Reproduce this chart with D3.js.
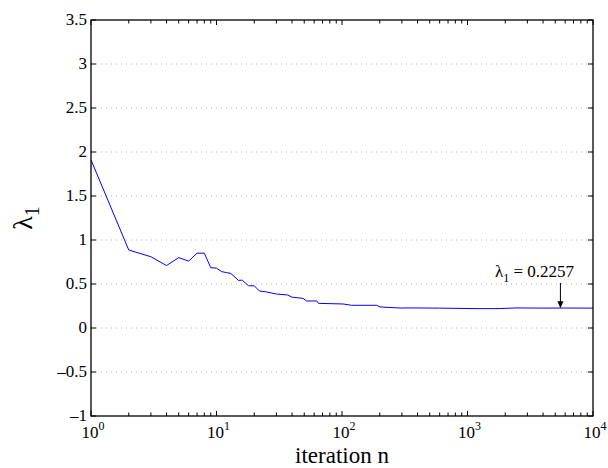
<!DOCTYPE html>
<html><head><meta charset="utf-8">
<script src="https://cdn.jsdelivr.net/npm/d3@7"></script>
<style>body{margin:0;background:#fff;}</style>
</head><body>
<svg id="c" width="608" height="468"></svg>
<script>
const iterations = [1,2,3,4,5,6,7,8,9,10,11,12,13,15,16,17,18,20,22,25,30,37,40,49,52,63,65,102,119,189,201,290,348,600,1191,1718,2478,4000,6000,10000];
const lambda1 =   [1.91,0.886,0.81,0.71,0.80,0.76,0.85,0.85,0.685,0.68,0.64,0.63,0.62,0.54,0.545,0.51,0.48,0.48,0.42,0.41,0.386,0.375,0.35,0.337,0.307,0.307,0.28,0.273,0.258,0.258,0.239,0.227,0.228,0.226,0.22,0.22,0.228,0.226,0.227,0.2257];
const yTicks = [-1,-0.5,0,0.5,1,1.5,2,2.5,3,3.5];
const xDecades = [0,1,2,3,4];
const annotation = {n: 5500, value: 0.2257, label: "0.2257"};

const svg = d3.select("#c");
const L=91,R=593,T=20,B=416;
const x = d3.scaleLog().domain([1,1e4]).range([L,R]);
const y = d3.scaleLinear().domain([-1,3.5]).range([B,T]);

// grid
svg.append("g").selectAll("line").data(yTicks.filter(d=>d>-1&&d<3.5)).join("line")
  .attr("x1",L).attr("x2",R).attr("y1",d=>y(d)).attr("y2",d=>y(d))
  .attr("stroke","#b0b0b0").attr("stroke-width",1).attr("stroke-dasharray","1,4");

// line
const line = d3.line().x((d,i)=>x(iterations[i])).y(d=>y(d));
svg.append("path").datum(lambda1).attr("d",line).attr("fill","none")
  .attr("stroke","#0000ff").attr("stroke-width",1);

// box
svg.append("rect").attr("x",L).attr("y",T).attr("width",R-L).attr("height",B-T)
  .attr("fill","none").attr("stroke","#000").attr("stroke-width",1.3);

// y ticks
const tk=5;
yTicks.forEach(v=>{
  svg.append("line").attr("x1",L).attr("x2",L+tk).attr("y1",y(v)).attr("y2",y(v)).attr("stroke","#000");
  svg.append("line").attr("x1",R).attr("x2",R-tk).attr("y1",y(v)).attr("y2",y(v)).attr("stroke","#000");
  svg.append("text").attr("x",L-4).attr("y",y(v)+5).attr("text-anchor","end")
    .attr("font-size",17).text(String(v).replace("-","\u2013"));
});
// x ticks
const xAll=[];
xDecades.forEach(e=>{ for(let m=1;m<=9;m++){ const v=m*Math.pow(10,e); if(v<=1e4) xAll.push({v,major:m===1}); } });
xAll.forEach(t=>{
  const len=t.major?5:3.5;
  svg.append("line").attr("x1",x(t.v)).attr("x2",x(t.v)).attr("y1",B).attr("y2",B-len).attr("stroke","#000");
  svg.append("line").attr("x1",x(t.v)).attr("x2",x(t.v)).attr("y1",T).attr("y2",T+len).attr("stroke","#000");
});
xDecades.forEach(e=>{
  const g=svg.append("text").attr("x",x(Math.pow(10,e))+2).attr("y",438).attr("text-anchor","middle").attr("font-size",17);
  g.append("tspan").text("10");
  g.append("tspan").attr("font-size",12).attr("dy",-8).text(e);
});

// axis labels
svg.append("text").attr("x",342).attr("y",463).attr("text-anchor","middle").attr("font-size",23).text("iteration n");
const yl = svg.append("text").attr("transform","translate(32,218) rotate(-90)").attr("text-anchor","middle").attr("font-size",28);
yl.append("tspan").text("\u03bb");
yl.append("tspan").attr("font-size",20).attr("dy",7).text("1");

// annotation
const ax=x(annotation.n), ay=y(annotation.value);
svg.append("line").attr("x1",ax).attr("x2",ax).attr("y1",283).attr("y2",ay-6).attr("stroke","#000").attr("stroke-width",1);
svg.append("path").attr("d",`M${ax-3},${ay-7}L${ax+3},${ay-7}L${ax},${ay}Z`).attr("fill","#000");
const at = svg.append("text").attr("x",495).attr("y",277).attr("font-size",17);
at.append("tspan").text("\u03bb");
at.append("tspan").attr("font-size",12).attr("dy",5).text("1");
at.append("tspan").attr("dy",-5).text(" = "+annotation.label);
</script>
</body></html>
